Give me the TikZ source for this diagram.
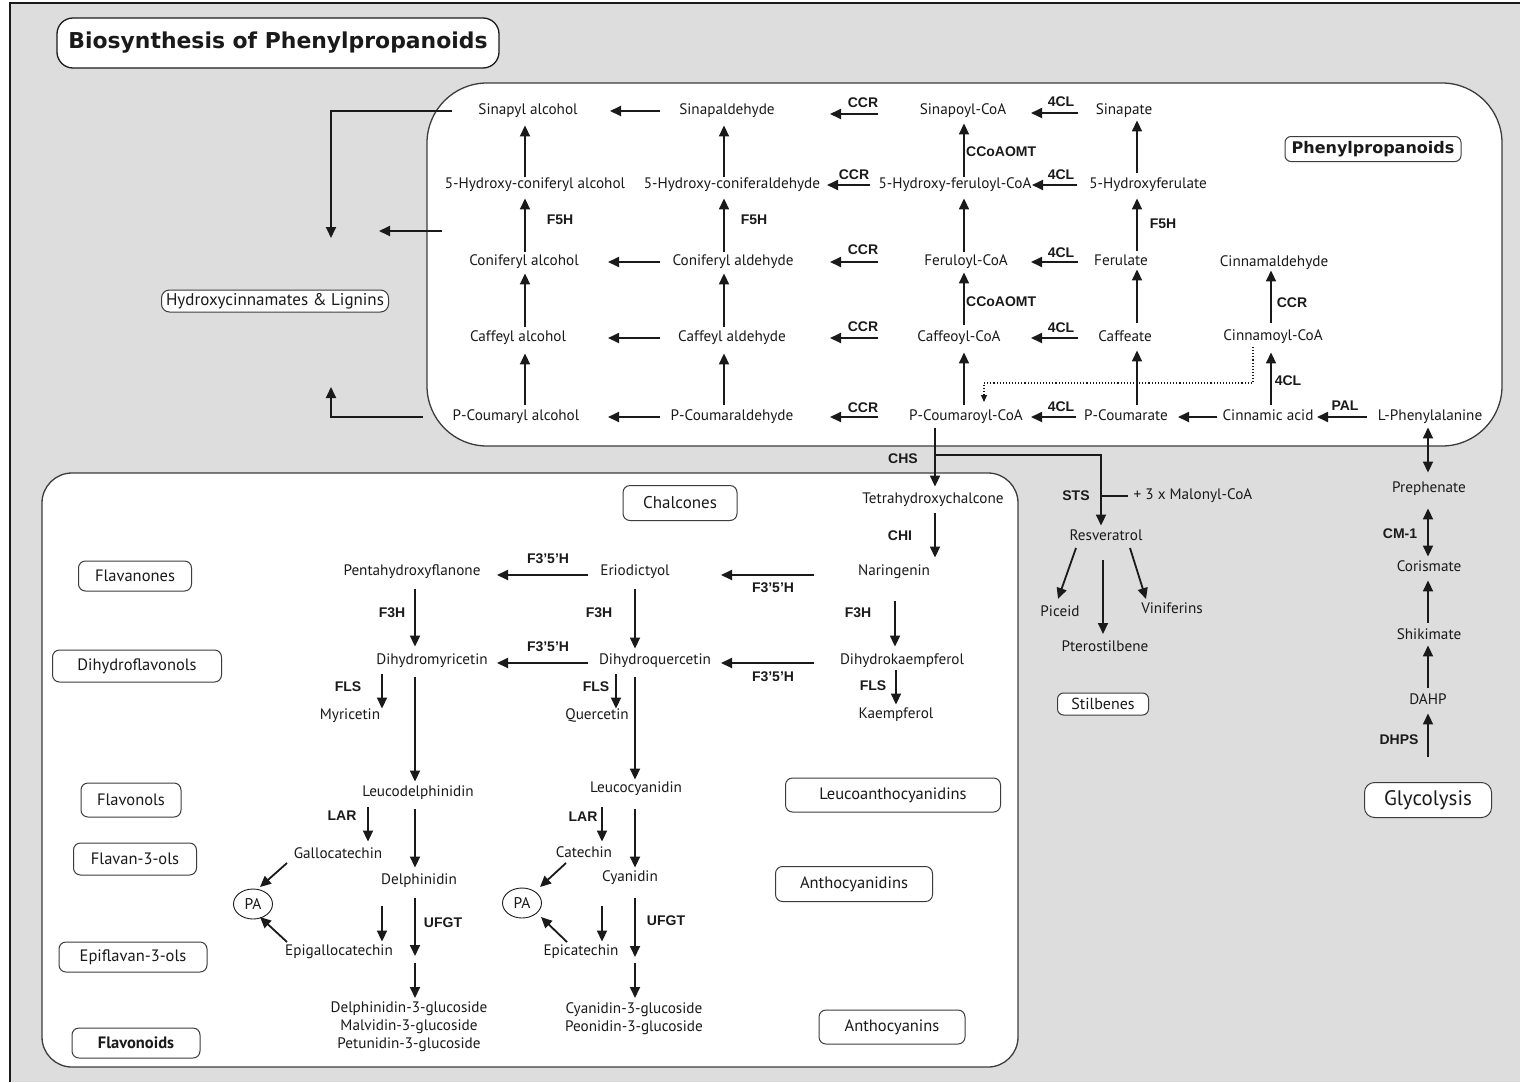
\documentclass[tikz,border=0pt]{standalone}
\usepackage{fontspec}
\setmainfont{PT Sans}
\newfontfamily\enzfont{Liberation Sans}
\newfontfamily\titlefont{DejaVu Sans}
\usetikzlibrary{arrows.meta,calc,shapes.geometric}
\definecolor{bggray}{HTML}{DDDDDD}
\definecolor{ink}{HTML}{1A1A1A}
\begin{document}
\begin{tikzpicture}[x=1pt,y=-1pt,
  cmp/.style={font=\fontsize{15.2}{17}\selectfont, inner sep=0pt, text height=10.5pt, text depth=3pt, text=ink},
  cmpml/.style={font=\fontsize{15.2}{18}\selectfont, inner sep=0pt, align=center, text=ink, anchor=north},
  enz/.style={font=\enzfont\bfseries\fontsize{14}{16}\selectfont, inner sep=0pt, text=ink},
  catbox/.style={draw=ink!85, line width=1pt, rounded corners=7pt, fill=white, inner sep=0pt, font=\fontsize{16.5}{18}\selectfont, text=ink},
  arr/.style={draw=ink, line width=1.8pt, -{Triangle[length=11pt,width=10pt]}},
  darr/.style={draw=ink, line width=1.8pt, {Triangle[length=11pt,width=10pt]}-{Triangle[length=11pt,width=10pt]}},
  dotarr/.style={draw=ink, line width=1.1pt, dotted, -{Triangle[length=7pt,width=6pt]}},
  pabox/.style={draw=ink, line width=0.9pt, ellipse, minimum width=39pt, minimum height=30pt, inner sep=0pt, fill=white, font=\fontsize{15.5}{17}\selectfont, text=ink}
]
\useasboundingbox (0,0) rectangle (1520,1082);
\fill[white] (0,0) rectangle (1520,1082);
\fill[bggray] (10,3) rectangle (1520,1082);
\draw[ink, line width=1.5pt] (10,1082) -- (10,3) -- (1520,3);

% big boxes
\draw[ink!85, line width=1.3pt, fill=white, rounded corners=60pt] (427,83) rectangle (1502,446);
\draw[ink!85, line width=1.3pt, fill=white, rounded corners=30pt] (42,473) rectangle (1018,1067);

% title
\node[draw=ink, line width=1.3pt, rounded corners=16pt, fill=white, minimum width=442pt, minimum height=50pt, inner sep=0pt, text=ink,
  font=\titlefont\bfseries\fontsize{21.9}{24}\selectfont] (title) at (278,43) {Biosynthesis of Phenylpropanoids};

% category boxes
\node[catbox, minimum width=227pt, minimum height=22pt, rounded corners=8pt, font=\fontsize{17}{19}\selectfont] (hcl) at (275,301) {Hydroxycinnamates \& Lignins};
\node[catbox, minimum width=176pt, minimum height=25pt, rounded corners=6pt, font=\titlefont\bfseries\fontsize{16}{18}\selectfont] (ppbox) at (1373,149) {Phenylpropanoids};
\node[catbox, minimum width=113pt, minimum height=30pt] (flavanones) at (135,576) {Flavanones};
\node[catbox, minimum width=169pt, minimum height=32pt] (dihydroflavonols) at (137,666) {Dihydroflavonols};
\node[catbox, minimum width=114pt, minimum height=35pt, font=\fontsize{17}{19}\selectfont] (chalcones) at (680,503) {Chalcones};
\node[catbox, minimum width=100pt, minimum height=34pt] (flavonols) at (131,800) {Flavonols};
\node[catbox, minimum width=123pt, minimum height=32pt] (flavanols) at (135,859) {Flavan-3-ols};
\node[catbox, minimum width=148pt, minimum height=30pt] (epiflavanols) at (133,957) {Epiflavan-3-ols};
\node[catbox, minimum width=128pt, minimum height=30pt, font=\bfseries\fontsize{16.5}{18}\selectfont] (flavonoids) at (136,1043) {Flavonoids};
\node[catbox, minimum width=215pt, minimum height=34pt] (leucoantho) at (893,795) {Leucoanthocyanidins};
\node[catbox, minimum width=157pt, minimum height=35pt] (anthocyanidins) at (854,884) {Anthocyanidins};
\node[catbox, minimum width=146pt, minimum height=34pt] (anthocyanins) at (892,1027) {Anthocyanins};
\node[catbox, minimum width=91pt, minimum height=22pt, rounded corners=6pt, font=\fontsize{16}{18}\selectfont] (stilbenes) at (1103,704) {Stilbenes};
\node[catbox, minimum width=127pt, minimum height=35pt, rounded corners=10pt, font=\fontsize{21}{23}\selectfont] (glyc) at (1428,800) {Glycolysis};

% phenylpropanoid compounds
\node[cmp] (sinalc) at (528,111) {Sinapyl alcohol};
\node[cmp] (sinald) at (727,111) {Sinapaldehyde};
\node[cmp] (sincoa) at (963,111) {Sinapoyl-CoA};
\node[cmp] (sinate) at (1124,111) {Sinapate};
\node[cmp] (hcalc) at (535,185) {5-Hydroxy-coniferyl alcohol};
\node[cmp] (hcald) at (732,185) {5-Hydroxy-coniferaldehyde};
\node[cmp] (hfcoa) at (955,185) {5-Hydroxy-feruloyl-CoA};
\node[cmp] (hfate) at (1148,185) {5-Hydroxyferulate};
\node[cmp] (conalc) at (524,262) {Coniferyl alcohol};
\node[cmp] (conald) at (733,262) {Coniferyl aldehyde};
\node[cmp] (fercoa) at (966,262) {Feruloyl-CoA};
\node[cmp] (ferate) at (1121,262) {Ferulate};
\node[cmp] (cinald) at (1274,263) {Cinnamaldehyde};
\node[cmp] (cafalc) at (518,338) {Caffeyl alcohol};
\node[cmp] (cafald) at (732,338) {Caffeyl aldehyde};
\node[cmp] (cafcoa) at (959,338) {Caffeoyl-CoA};
\node[cmp] (cafate) at (1125,338) {Caffeate};
\node[cmp] (cincoa) at (1273,337) {Cinnamoyl-CoA};
\node[cmp] (pcalc) at (516,417) {P-Coumaryl alcohol};
\node[cmp] (pcald) at (732,417) {P-Coumaraldehyde};
\node[cmp] (pccoa) at (966,417) {P-Coumaroyl-CoA};
\node[cmp] (pcate) at (1126,417) {P-Coumarate};
\node[cmp] (cinac) at (1268,417) {Cinnamic acid};
\node[cmp] (lphe) at (1430,417) {L-Phenylalanine};

% right column
\node[cmp] (preph) at (1429,489) {Prephenate};
\node[cmp] (cor) at (1429,568) {Corismate};
\node[cmp] (shik) at (1429,636) {Shikimate};
\node[cmp] (dahp) at (1428,701) {DAHP};

% stilbenes
\node[cmp] (res) at (1106,537) {Resveratrol};
\node[cmp] (pic) at (1060,613) {Piceid};
\node[cmp] (pte) at (1105,648) {Pterostilbene};
\node[cmp] (vin) at (1172,610) {Viniferins};
\node[cmp] (malonyl) at (1193,496) {+ 3 x Malonyl-CoA};

% flavonoid compounds
\node[cmp] (thc) at (933,500) {Tetrahydroxychalcone};
\node[cmp] (nar) at (894,572) {Naringenin};
\node[cmp] (dhk) at (902,661) {Dihydrokaempferol};
\node[cmp] (kae) at (896,715) {Kaempferol};
\node[cmp] (eri) at (635,572) {Eriodictyol};
\node[cmp] (dhq) at (655,661) {Dihydroquercetin};
\node[cmp] (que) at (597,716) {Quercetin};
\node[cmp] (pen) at (412,572) {Pentahydroxyflanone};
\node[cmp] (dhm) at (432,661) {Dihydromyricetin};
\node[cmp] (myr) at (350,716) {Myricetin};
\node[cmp] (leud) at (418,793) {Leucodelphinidin};
\node[cmp] (gal) at (338,855) {Gallocatechin};
\node[cmp] (del) at (419,881) {Delphinidin};
\node[pabox] (pa1) at (253,904) {PA};
\node[cmp] (egc) at (339,952) {Epigallocatechin};
\node[cmpml] (d3g) at (409,1002) {Delphinidin-3-glucoside\\Malvidin-3-glucoside\\Petunidin-3-glucoside};
\node[cmp] (leuc) at (636,789) {Leucocyanidin};
\node[cmp] (cat) at (584,854) {Catechin};
\node[cmp] (cya) at (630,878) {Cyanidin};
\node[pabox] (pa2) at (522,903) {PA};
\node[cmp] (epi) at (581,952) {Epicatechin};
\node[cmpml] (c3g) at (634,1002) {Cyanidin-3-glucoside\\Peonidin-3-glucoside};

% enzyme labels
\node[enz] (ccr1) at (863,103) {CCR};
\node[enz] (ccr2) at (854,175) {CCR};
\node[enz] (ccr3) at (863,250) {CCR};
\node[enz] (ccr4) at (863,327) {CCR};
\node[enz] (ccr5) at (863,408) {CCR};
\node[enz] (fcl1) at (1061,102) {4CL};
\node[enz] (fcl2) at (1061,175) {4CL};
\node[enz] (fcl3) at (1061,253) {4CL};
\node[enz] (fcl4) at (1061,328) {4CL};
\node[enz] (fcl5) at (1061,407) {4CL};
\node[enz, anchor=west] (ccoa1) at (966,152) {CCoAOMT};
\node[enz, anchor=west] (ccoa2) at (966,302) {CCoAOMT};
\node[enz] (f5h1) at (560,220) {F5H};
\node[enz] (f5h2) at (754,220) {F5H};
\node[enz] (f5h3) at (1163,224) {F5H};
\node[enz] (ccr6) at (1292,303) {CCR};
\node[enz] (fcl6) at (1288,381) {4CL};
\node[enz] (pal) at (1345,406) {PAL};
\node[enz] (chs) at (903,459) {CHS};
\node[enz] (sts) at (1076,496) {STS};
\node[enz] (chi) at (900,536) {CHI};
\node[enz] (f3h1) at (858,613) {F3H};
\node[enz] (fls1) at (873,686) {FLS};
\node[enz] (f35a) at (773,588) {F3’5’H};
\node[enz] (f35b) at (548,559) {F3’5’H};
\node[enz] (f35c) at (773,677) {F3’5’H};
\node[enz] (f35d) at (548,647) {F3’5’H};
\node[enz] (f3h2) at (392,613) {F3H};
\node[enz] (f3h3) at (599,613) {F3H};
\node[enz] (fls2) at (348,687) {FLS};
\node[enz] (fls3) at (596,687) {FLS};
\node[enz] (lar1) at (342,816) {LAR};
\node[enz] (lar2) at (583,817) {LAR};
\node[enz] (ufgt1) at (443,923) {UFGT};
\node[enz] (ufgt2) at (666,921) {UFGT};
\node[enz] (cm1) at (1400,534) {CM-1};
\node[enz] (dhps) at (1399,740) {DHPS};

% column coordinates
\coordinate (cA) at (525,0);
\coordinate (cB) at (724,0);
\coordinate (cC) at (964,0);
\coordinate (cD) at (1137,0);
\coordinate (cE) at (1271,0);
\coordinate (cF) at (1428,0);
\coordinate (cG) at (935,0);
\coordinate (cH) at (895,0);
\coordinate (cI) at (415,0);
\coordinate (cJ) at (635,0);
\coordinate (cK) at (382,0);
\coordinate (cL) at (616,0);
\coordinate (cM) at (368,0);
\coordinate (cN) at (602,0);
\coordinate (cS) at (1101,0);

% horizontal arrows, phenylpropanoids
\draw[arr] ([xshift=-67pt]sinald.center) -- ([xshift=82pt]sinalc.center);
\draw[arr] ([xshift=-85pt,yshift=-3pt]sincoa.center) -- ([xshift=103pt,yshift=-3pt]sinald.center);
\draw[arr] ([xshift=-46pt,yshift=-2pt]sinate.center) -- ([xshift=68pt,yshift=-2pt]sincoa.center);
\draw[arr] ([xshift=-85pt]hfcoa.center) -- ([xshift=95pt]hcald.center);
\draw[arr] ([xshift=-71pt]hfate.center) -- ([xshift=77pt]hfcoa.center);
\draw[arr] ([xshift=-73pt]conald.center) -- ([xshift=84pt]conalc.center);
\draw[arr] ([xshift=-88pt]fercoa.center) -- ([xshift=97pt]conald.center);
\draw[arr] ([xshift=-43pt]ferate.center) -- ([xshift=65pt]fercoa.center);
\draw[arr] ([xshift=-72pt]cafald.center) -- ([xshift=90pt]cafalc.center);
\draw[arr] ([xshift=-81pt]cafcoa.center) -- ([xshift=98pt]cafald.center);
\draw[arr] ([xshift=-47pt]cafate.center) -- ([xshift=72pt]cafcoa.center);
\draw[arr] ([xshift=-72pt]pcald.center) -- ([xshift=92pt]pcalc.center);
\draw[arr] ([xshift=-88pt]pccoa.center) -- ([xshift=98pt]pcald.center);
\draw[arr] ([xshift=-50pt]pcate.center) -- ([xshift=65pt]pccoa.center);
\draw[arr] ([xshift=-51pt]cinac.center) -- ([xshift=52pt]pcate.center);
\draw[arr] ([xshift=-63pt]lphe.center) -- ([xshift=49pt]cinac.center);

% vertical arrows, phenylpropanoids
\draw[arr, shorten <=5.5pt, shorten >=8.5pt] (pcalc.north -| cA) -- (cafalc.south -| cA);
\draw[arr, shorten <=4.5pt, shorten >=4.5pt] (cafalc.north -| cA) -- (conalc.south -| cA);
\draw[arr, shorten <=3.5pt, shorten >=6.5pt] (conalc.north -| cA) -- (hcalc.south -| cA);
\draw[arr, shorten <=1.5pt, shorten >=7.5pt] (hcalc.north -| cA) -- (sinalc.south -| cA);
\draw[arr, shorten <=5.5pt, shorten >=8.5pt] (pcald.north -| cB) -- (cafald.south -| cB);
\draw[arr, shorten <=4.5pt, shorten >=4.5pt] (cafald.north -| cB) -- (conald.south -| cB);
\draw[arr, shorten <=3.5pt, shorten >=6.5pt] (conald.north -| cB) -- (hcald.south -| cB);
\draw[arr, shorten <=1.5pt, shorten >=7.5pt] (hcald.north -| cB) -- (sinald.south -| cB);
\draw[arr, shorten <=5.5pt, shorten >=7.5pt] (pccoa.north -| cC) -- (cafcoa.south -| cC);
\draw[arr, shorten <=6.5pt, shorten >=3.5pt] (cafcoa.north -| cC) -- (fercoa.south -| cC);
\draw[arr, shorten <=3.5pt, shorten >=6.5pt] (fercoa.north -| cC) -- (hfcoa.south -| cC);
\draw[arr, shorten <=1.5pt, shorten >=5.5pt] (hfcoa.north -| cC) -- (sincoa.south -| cC);
\draw[arr, shorten <=5.5pt, shorten >=5.5pt] (pcate.north -| cD) -- (cafate.south -| cD);
\draw[arr, shorten <=8.5pt, shorten >=0.5pt] (cafate.north -| cD) -- (ferate.south -| cD);
\draw[arr, shorten <=4.5pt, shorten >=6.5pt] (ferate.north -| cD) -- (hfate.south -| cD);
\draw[arr, shorten <=5.5pt, shorten >=2.5pt] (hfate.north -| cD) -- (sinate.south -| cD);
\draw[arr, shorten <=5.5pt, shorten >=8.5pt] (cinac.north -| cE) -- (cincoa.south -| cE);
\draw[arr, shorten <=7.5pt, shorten >=0.5pt] (cincoa.north -| cE) -- (cinald.south -| cE);

% dotted link
\coordinate (dc1) at (1253,383);
\coordinate (dc2) at (984,383);
\draw[dotarr] ([xshift=-20pt,yshift=-10pt]cincoa.center) -- (dc1) -- (dc2) -- ([xshift=18pt,yshift=15pt]pccoa.center);

% outgoing to hydroxycinnamates
\coordinate (lg1) at (331,238);
\coordinate (lm1) at (442,231);
\coordinate (lm2) at (379,231);
\coordinate (lb1) at (331,387);
\draw[arr] ([xshift=-76pt]sinalc.center) -| (lg1);
\draw[arr] (lm1) -- (lm2);
\draw[arr] ([xshift=-93pt]pcalc.center) -| (lb1);

% right column
\draw[darr, shorten <=3.5pt, shorten >=9.5pt] (lphe.south -| cF) -- (preph.north -| cF);
\draw[darr, shorten <=12.5pt, shorten >=4.5pt] (preph.south -| cF) -- (cor.north -| cF);
\draw[arr, shorten <=6.5pt, shorten >=5.5pt] (shik.north -| cF) -- (cor.south -| cF);
\draw[arr, shorten <=6.5pt, shorten >=2.5pt] (dahp.north -| cF) -- (shik.south -| cF);
\draw[arr, shorten <=25.5pt, shorten >=5.5pt] (glyc.north -| cF) -- (dahp.south -| cF);

% CHS / STS
\coordinate (chsbr) at (935,455);
\draw[arr, shorten <=4.5pt, shorten >=6.5pt] (pccoa.south -| cG) -- (thc.north -| cG);
\draw[arr, shorten >=4.5pt] (chsbr) -| (res.north -| cS);
\draw[ink, line width=2.2pt] (cS |- malonyl.center) -- ([xshift=-65pt]malonyl.center);

% stilbene products
\draw[arr] ([xshift=-30pt,yshift=-11pt]res.center) -- ([xshift=-2pt,yshift=14pt]pic.center);
\draw[arr] ([xshift=-3pt,yshift=-23pt]res.center) -- ([xshift=-2pt,yshift=14pt]pte.center);
\draw[arr] ([xshift=24pt,yshift=-11pt]res.center) -- ([xshift=-26pt,yshift=11pt]vin.center);

% flavonoid arrows
\draw[arr, shorten <=6.5pt, shorten >=7.5pt] (thc.south -| cG) -- (nar.north -| cG);
\draw[arr, shorten <=22.5pt, shorten >=7.5pt] (nar.south -| cH) -- (dhk.north -| cH);
\draw[arr, shorten <=2.5pt, shorten >=3.5pt] (dhk.south -| kae) -- (kae.north);
\draw[arr] ([xshift=-80pt,yshift=-3pt]nar.center) -- ([xshift=86pt,yshift=-3pt]eri.center);
\draw[arr] ([xshift=-47pt,yshift=-3pt]eri.center) -- ([xshift=85pt,yshift=-3pt]pen.center);
\draw[arr, shorten <=10.5pt, shorten >=7.5pt] (pen.south -| cI) -- (dhm.north -| cI);
\draw[arr, shorten <=10.5pt, shorten >=5.5pt] (eri.south -| cJ) -- (dhq.north -| cJ);
\draw[arr] ([xshift=-88pt,yshift=-2pt]dhk.center) -- ([xshift=66pt,yshift=-2pt]dhq.center);
\draw[arr] ([xshift=-67pt,yshift=-2pt]dhq.center) -- ([xshift=65pt,yshift=-2pt]dhm.center);
\draw[arr, shorten <=6.5pt, shorten >=0.5pt] (dhm.south -| cK) -- (myr.north -| cK);
\draw[arr, shorten <=6.5pt, shorten >=0.5pt] (dhq.south -| cL) -- (que.north -| cL);
\draw[arr, shorten <=9.5pt, shorten >=4.5pt] (dhm.south -| cI) -- (leud.north -| cI);
\draw[arr, shorten <=9.5pt, shorten >=2.5pt] (dhq.south -| cJ) -- (leuc.north -| cJ);

% delphinidin branch
\coordinate (ug1) at (415,960);
\draw[arr, shorten <=7.5pt, shorten >=6.5pt] (leud.south -| cM) -- (gal.north -| cM);
\draw[arr, shorten <=9.5pt, shorten >=6.5pt] (leud.south -| cI) -- (del.north -| cI);
\draw[arr] ([xshift=-51pt,yshift=-8pt]gal.center) -- ([xshift=7pt,yshift=17pt]pa1.center);
\draw[arr] ([xshift=-52pt,yshift=10pt]egc.center) -- ([xshift=7pt,yshift=-13pt]pa1.center);
\draw[arr, shorten <=18.5pt, shorten >=3.5pt] (del.south -| cK) -- (egc.north -| cK);
\draw[arr, shorten <=10.5pt, shorten >=4pt] (del.south -| cI) -- (ug1);
\draw[arr, shorten <=3pt, shorten >=4pt] (ug1) -- (d3g.north -| cI);

% cyanidin branch
\coordinate (ug2) at (635,960);
\draw[arr, shorten <=11.5pt, shorten >=5.5pt] (leuc.south -| cN) -- (cat.north -| cN);
\draw[arr, shorten <=13.5pt, shorten >=3.5pt] (leuc.south -| cJ) -- (cya.north -| cJ);
\draw[arr] ([xshift=-18pt,yshift=-9pt]cat.center) -- ([xshift=18pt,yshift=16pt]pa2.center);
\draw[arr] ([xshift=-14pt,yshift=10pt]epi.center) -- ([xshift=19pt,yshift=-14pt]pa2.center);
\draw[arr, shorten <=21.5pt, shorten >=3.5pt] (cya.south -| cN) -- (epi.north -| cN);
\draw[arr, shorten <=13.5pt, shorten >=3pt] (cya.south -| cJ) -- (ug2);
\draw[arr, shorten <=3pt, shorten >=4pt] (ug2) -- (c3g.north -| cJ);
\end{tikzpicture}
\end{document}
